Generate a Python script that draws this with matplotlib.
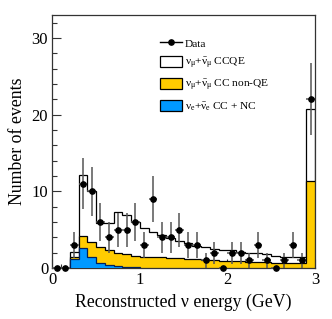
import numpy as np
import matplotlib
matplotlib.use("Agg")
import matplotlib.pyplot as plt
from matplotlib.patches import Patch
from matplotlib.lines import Line2D

# Bin edges (GeV), last bin is overflow
edges = np.round(np.arange(0, 3.01, 0.1), 2)
centers = (edges[:-1] + edges[1:]) / 2

# Data counts per bin
data_counts = [0, 0, 3, 11, 10, 6, 4, 5, 5, 6,
               3, 9, 4, 4, 5, 3, 3, 1, 2, 0,
               2, 2, 1, 3, 1, 0, 1, 3, 1, 22]

# Stacked prediction: cumulative tops
total_top = [0, 0, 2.1, 12.1, 10.1, 5.9, 5.9, 7.3, 6.9, 6.0,
             5.2, 4.7, 4.3, 3.9, 3.5, 3.2, 2.9, 2.7, 2.5, 2.4,
             2.3, 2.1, 2.0, 1.9, 1.8, 1.6, 1.5, 1.5, 1.4, 20.7]
nonqe_top = [0, 0, 1.4, 4.2, 3.4, 2.7, 2.3, 2.0, 1.8, 1.6,
             1.5, 1.45, 1.4, 1.35, 1.3, 1.2, 1.15, 1.05, 1.0, 0.95,
             0.9, 0.85, 0.8, 0.8, 0.75, 0.7, 0.7, 0.65, 0.6, 11.3]
nue_nc = [0, 0, 1.2, 2.6, 1.4, 0.7, 0.35, 0.2, 0.15, 0.1,
          0.06, 0.05, 0.04, 0.03, 0.02, 0, 0, 0, 0, 0,
          0, 0, 0, 0, 0, 0, 0, 0, 0, 0]

nue_nc = np.array(nue_nc)
numu_nonqe = np.array(nonqe_top) - nue_nc
numu_ccqe = np.array(total_top) - np.array(nonqe_top)

plt.rcParams['font.family'] = ['Liberation Serif', 'DejaVu Serif']
plt.rcParams['mathtext.fontset'] = 'custom'
plt.rcParams['mathtext.rm'] = 'Liberation Serif'
plt.rcParams['mathtext.it'] = 'Liberation Serif:italic'
plt.rcParams['mathtext.default'] = 'regular'

W, H = 332, 319
fig = plt.figure(figsize=(W / 100, H / 100), dpi=100)
x0, x1, ytop, ybot = 52.3, 315.0, 15.0, 268.0
ax = fig.add_axes([x0 / W, (H - ybot) / H, (x1 - x0) / W, (ybot - ytop) / H])

yellow = '#ffcc00'
blue = '#0099ff'

c1 = nue_nc
c2 = c1 + numu_nonqe
c3 = c2 + numu_ccqe

ax.stairs(c3, edges, fill=True, color='white', zorder=1)
ax.stairs(c3, edges, color='black', lw=0.9, zorder=2)
ax.stairs(c2, edges, fill=True, color=yellow, zorder=3)
ax.stairs(c2, edges, color='black', lw=0.9, zorder=4)
ax.stairs(c1, edges, fill=True, color=blue, zorder=5)
ax.stairs(c1, edges, color='#00205a', lw=0.9, zorder=6)

dc = np.array(data_counts, dtype=float)
ax.errorbar(centers, dc, yerr=np.sqrt(dc), xerr=0.05, fmt='o', ms=3.8,
            mfc='black', mec='black', ecolor='#555555', elinewidth=1.1,
            capsize=0, zorder=10, clip_on=False)

ax.set_xlim(0, 3)
ax.set_ylim(0, 33)
ax.set_xticks([0, 1, 2, 3])
ax.set_xticks(np.arange(0, 3.01, 0.1), minor=True)
ax.set_yticks([0, 10, 20, 30])
ax.set_yticks(np.arange(0, 33, 2), minor=True)
ax.tick_params(which='both', direction='in', top=False, right=False,
               labelsize=12, color='#333333')
ax.tick_params(which='major', length=6.5, width=0.8, pad=3)
ax.tick_params(which='minor', axis='y', length=3.6, width=0.8)
ax.tick_params(which='minor', axis='x', length=2.6, width=0.8)
for s in ax.spines.values():
    s.set_linewidth(0.9)
    s.set_color('#333333')

ax.set_xlabel('Reconstructed ν energy (GeV)', fontsize=12.8, labelpad=4)
ax.set_ylabel('Number of events', fontsize=12.8, labelpad=4)

handles = [
    Line2D([], [], color='black', marker='o', ms=3.8, lw=1.0),
    Patch(facecolor='white', edgecolor='black', lw=0.9),
    Patch(facecolor=yellow, edgecolor='black', lw=0.9),
    Patch(facecolor=blue, edgecolor='black', lw=0.9),
]
labels = [
    'Data',
    r'$\nu_\mu$+$\bar{\nu}_\mu$ CCQE',
    r'$\nu_\mu$+$\bar{\nu}_\mu$ CC non-QE',
    r'$\nu_e$+$\bar{\nu}_e$ CC + NC',
]
ax.legend(handles, labels, loc='upper left', bbox_to_anchor=(0.41, 0.912),
          frameon=False, fontsize=8.2, borderpad=0, borderaxespad=0,
          handlelength=1.9, handleheight=1.15, handletextpad=0.3,
          labelspacing=0.62)

fig.savefig('out.png', dpi=100)
